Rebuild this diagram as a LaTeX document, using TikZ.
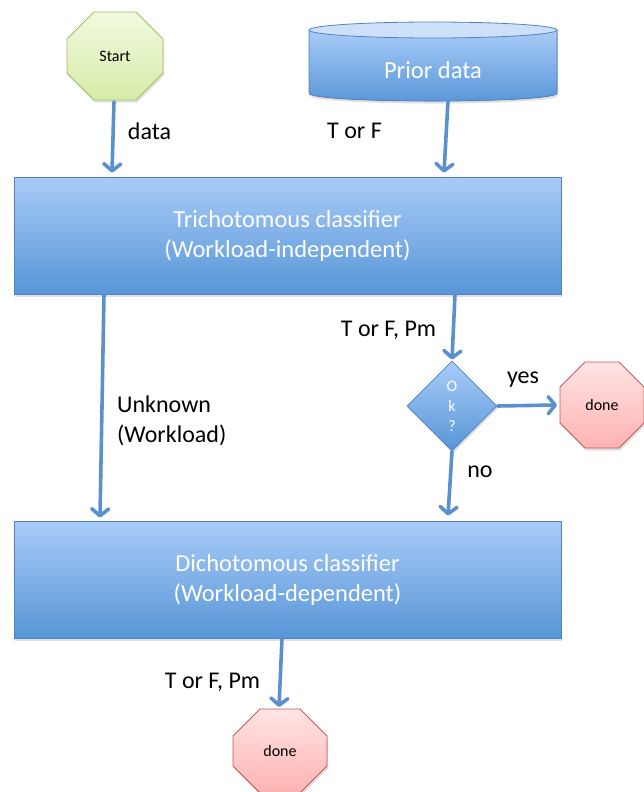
\documentclass[tikz,border=0pt]{standalone}
\usepackage{fontspec}
\setmainfont{Carlito}
\usetikzlibrary{arrows.meta,shapes.geometric,shadows}
\definecolor{boxtop}{RGB}{168,203,248}
\definecolor{boxbot}{RGB}{88,150,215}
\definecolor{boxline}{RGB}{84,130,192}
\definecolor{arrowc}{RGB}{90,144,206}
\definecolor{gtop}{RGB}{241,249,224}
\definecolor{gbot}{RGB}{214,236,168}
\definecolor{gline}{RGB}{160,192,100}
\definecolor{rtop}{RGB}{255,228,228}
\definecolor{rbot}{RGB}{255,178,178}
\definecolor{rline}{RGB}{198,88,85}
\definecolor{cyltop}{RGB}{204,224,250}
% octagon drawn inside the bounding rectangle of a named node
\newcommand{\octpath}[3]{%
  \path[#3] ([xshift=#2]#1.north west) -- ([xshift=-#2]#1.north east)
    -- ([yshift=-#2]#1.north east) -- ([yshift=#2]#1.south east)
    -- ([xshift=-#2]#1.south east) -- ([xshift=#2]#1.south west)
    -- ([yshift=#2]#1.south west) -- ([yshift=-#2]#1.north west) -- cycle;}
\begin{document}
\begin{tikzpicture}[x=1pt,y=-1pt,
 shad/.style={drop shadow={opacity=0.25,shadow xshift=1pt,shadow yshift=-2.5pt}},
 bigtext/.style={font=\fontsize{24.5}{30}\selectfont},
 smalltext/.style={font=\fontsize{16}{20}\selectfont},
 classbox/.style={rectangle, draw=boxline, line width=0.8pt, top color=boxtop, bottom color=boxbot,
   minimum width=547pt, minimum height=117pt, text=white, align=center, bigtext, shad},
 holder/.style={rectangle, inner sep=0pt, outer sep=0pt},
 startoct/.style={draw=gline, line width=0.8pt, top color=gtop, bottom color=gbot, shad},
 doneoct/.style={draw=rline, line width=0.8pt, top color=rtop, bottom color=rbot, shad},
 octtext/.style={smalltext, text=black},
 decision/.style={diamond, aspect=1, minimum width=90pt, minimum height=90pt, inner sep=0pt,
   draw=boxline, line width=0.8pt, top color=boxtop, bottom color=boxbot, text=white, align=center,
   smalltext, shad},
 lbl/.style={font=\fontsize{24}{30}\selectfont, text=black, inner sep=0pt},
 arr/.style={draw=arrowc, line width=3.6pt, line cap=round,
   -{Straight Barb[length=7pt, width=17pt, line cap=round, line join=round]}},
]
\useasboundingbox (0,0) rectangle (643,792);

% start octagon
\node[holder, minimum width=96pt, minimum height=88pt] (start) at (115,56) {};
\octpath{start}{27pt}{startoct}
\node[octtext] (starttxt) at (start.center) {Start};

% prior data cylinder
\node[holder, minimum width=248pt, minimum height=63pt] (prior) at (433,61.5) {};
\fill[shad, top color=boxtop, bottom color=boxbot, draw=boxline, line width=0.8pt]
  (prior.north west) -- (prior.south west)
  .. controls ++(0pt,-10.7pt) and ++(0pt,-10.7pt) .. (prior.south east)
  -- (prior.north east) -- cycle;
\draw[fill=cyltop, draw=boxline, line width=0.8pt] (prior.north) ellipse [x radius=124pt, y radius=8pt];
\node[bigtext, text=white] (priortxt) at ([yshift=-8.5pt]prior.center) {Prior data};

% classifiers and decision
\node[classbox] (tri) at (287.5,235.5) {Trichotomous classifier\\(Workload-independent)};
\node[classbox] (dich) at (287.5,579.5) {Dichotomous classifier\\(Workload-dependent)};
\node[decision] (ok) at (452,406) {O\\k\\?};

% done octagons
\node[holder, minimum width=84pt, minimum height=86pt] (done1) at (602,405) {};
\octpath{done1}{25pt}{doneoct}
\node[octtext] (done1txt) at (done1.center) {done};
\node[holder, minimum width=94pt, minimum height=84pt] (done2) at (280,751) {};
\octpath{done2}{27pt}{doneoct}
\node[octtext] (done2txt) at (done2.center) {done};

% connectors
\draw[arr] ([xshift=-1pt,yshift=-2pt]start.south) -- ([xshift=-175.5pt,yshift=4pt]tri.north);
\draw[arr] ([xshift=15pt,yshift=-8pt]prior.south) -- ([xshift=156.5pt,yshift=4pt]tri.north);
\draw[arr] ([xshift=167.5pt]tri.south) -- ([yshift=1pt]ok.north);
\draw[arr] ([xshift=-183.5pt]tri.south) -- ([xshift=-187.5pt,yshift=3pt]dich.north);
\draw[arr] (ok.east) -- ([xshift=-3pt]done1.west);
\draw[arr] (ok.south) -- ([xshift=160.5pt,yshift=5pt]dich.north);
\draw[arr] ([xshift=-5.5pt]dich.south) -- ([xshift=-1pt,yshift=2pt]done2.north);

% labels
\node[lbl] (l1) at (149.5,131) {data};
\node[lbl] (l2) at (354.5,131) {T or F};
\node[lbl] (l3) at (388.5,330) {T or F, Pm};
\node[lbl, anchor=west, align=left] (l4) at (117,421) {Unknown\\(Workload)};
\node[lbl] (l5) at (523,380) {yes};
\node[lbl] (l6) at (480,472) {no};
\node[lbl] (l7) at (212.5,682) {T or F, Pm};
\end{tikzpicture}
\end{document}
